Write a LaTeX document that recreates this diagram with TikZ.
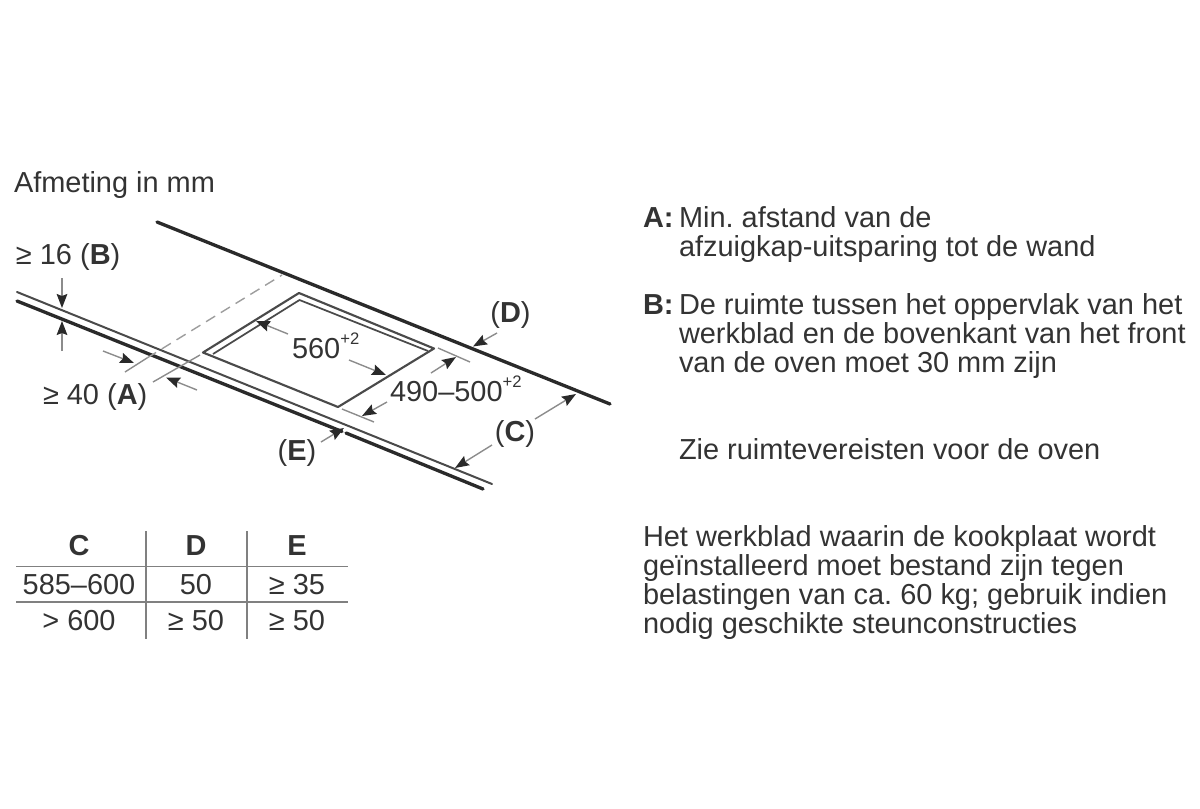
\documentclass[tikz,border=0pt]{standalone}
\usepackage{fontspec}
\setmainfont{Liberation Sans}
\usetikzlibrary{arrows.meta}
\frenchspacing
\definecolor{ink}{HTML}{333333}
\definecolor{edge}{HTML}{2A2A2A}
\definecolor{dimline}{HTML}{8C8C8C}
\definecolor{tabline}{HTML}{808080}
\newcommand{\supp}[1]{\raisebox{0.45em}{\fontsize{12.5}{14}\selectfont #1}}
\tikzset{
  txt/.style={anchor=base west,inner sep=0pt,outer sep=0pt,text=ink,font=\fontsize{21.7}{26}\selectfont},
  ctxt/.style={txt,anchor=base},
  heavy/.style={draw=edge,line width=2.5pt,line cap=round},
  thin edge/.style={draw=edge!85,line width=1.5pt,line cap=round},
  cut/.style={draw=edge!85,line width=1.6pt,line join=round},
  extline/.style={draw=dimline,line width=1.05pt},
  dashline/.style={draw=dimline!85,line width=1.05pt,dash pattern=on 8pt off 5pt},
  dimarrow/.style={draw=dimline,line width=1.05pt,-{Stealth[length=10.5pt,width=8pt,inset=1.5pt,color=edge,fill=edge]}},
  tab/.style={draw=tabline,line width=1.3pt}
}
\begin{document}
\begin{tikzpicture}[x=0.75pt,y=-0.75pt]
\useasboundingbox (0,0) rectangle (1200,808);
% --- coordinates
\coordinate (wallA) at (157,222);
\coordinate (wallB) at (610,404);
\coordinate (frontUA) at (17,292);
\coordinate (frontUB) at (492,484);
\coordinate (frontLA) at (17,301);
\coordinate (frontLG) at (342,431.5);
\coordinate (frontLH) at (346,433);
\coordinate (frontLB) at (483,489);
\coordinate (cL) at (203,352.5);
\coordinate (cT) at (299,293);
\coordinate (cR) at (434,348.5);
\coordinate (cB) at (338,407);
\coordinate (iL) at (213,354);
\coordinate (iT) at (299.5,300);
\coordinate (iR) at (428,351);
% --- worktop edges
\draw[heavy] (wallA) -- (wallB);
\draw[thin edge] (frontUA) -- (frontUB);
\draw[heavy] (frontLA) -- (frontLG);
\draw[heavy] (frontLH) -- (frontLB);
% --- cut-out
\draw[cut] (cL) -- (cT) -- (cR) -- (cB) -- cycle;
\draw[cut,line width=1.3pt] (iL) -- (iT) -- (iR);
% --- extension lines
\coordinate (a1) at (125,372);
\coordinate (a2) at (147,358);
\coordinate (a3) at (282,275);
\coordinate (a4) at (153,382);
\coordinate (a5) at (200,355);
\draw[extline] (a1) -- (a2);
\draw[dashline] (a2) -- (a3);
\draw[extline] (a4) -- (a5);
\coordinate (w1) at (438,348);
\coordinate (w2) at (470,362);
\coordinate (w3) at (342,409);
\coordinate (w4) at (374,422);
\draw[extline] (w1) -- (w2);
\draw[extline] (w3) -- (w4);
% --- dimension arrows
\coordinate (b1s) at (62,278); \coordinate (b1e) at (62,308);
\coordinate (b2s) at (62,351); \coordinate (b2e) at (62,321);
\draw[dimarrow] (b1s) -- (b1e);
\draw[dimarrow] (b2s) -- (b2e);
\coordinate (a1s) at (103,351); \coordinate (a1e) at (134,363);
\coordinate (a2s) at (197,390); \coordinate (a2e) at (166,377.5);
\draw[dimarrow] (a1s) -- (a1e);
\draw[dimarrow] (a2s) -- (a2e);
\coordinate (l1s) at (288,334); \coordinate (l1e) at (256,321);
\coordinate (l2s) at (349,360); \coordinate (l2e) at (386,375);
\draw[dimarrow] (l1s) -- (l1e);
\draw[dimarrow] (l2s) -- (l2e);
\coordinate (m1s) at (431,373); \coordinate (m1e) at (456,357);
\coordinate (m2s) at (387,402); \coordinate (m2e) at (362,416);
\draw[dimarrow] (m1s) -- (m1e);
\draw[dimarrow] (m2s) -- (m2e);
\coordinate (ds) at (497,333); \coordinate (de) at (473,346.5);
\draw[dimarrow] (ds) -- (de);
\coordinate (c1s) at (535,419); \coordinate (c1e) at (576,394);
\coordinate (c2s) at (492,445); \coordinate (c2e) at (455,468);
\draw[dimarrow] (c1s) -- (c1e);
\draw[dimarrow] (c2s) -- (c2e);
\coordinate (es) at (321,442); \coordinate (ee) at (344,428);
\draw[dimarrow] (es) -- (ee);
% --- diagram labels
\node[txt] (title) at (14,192) {Afmeting in mm};
\node[txt] (lblB) at (16,264) {≥ 16 (\textbf{B})};
\node[txt] (lblA) at (43,404) {≥ 40 (\textbf{A})};
\node[txt] (lbl560) at (292,358) {560\supp{+2}};
\node[txt] (lbl490) at (390,401) {490–500\supp{+2}};
\node[ctxt] (lblD) at (510.5,322) {(\textbf{D})};
\node[ctxt] (lblC) at (515,441) {(\textbf{C})};
\node[ctxt] (lblE) at (297,460) {(\textbf{E})};
% --- table
\coordinate (h1a) at (16,566.5); \coordinate (h1b) at (348,566.5);
\coordinate (h2a) at (16,602); \coordinate (h2b) at (348,602);
\coordinate (v1a) at (146,531); \coordinate (v1b) at (146,639);
\coordinate (v2a) at (247,531); \coordinate (v2b) at (247,639);
\draw[tab] (h1a) -- (h1b);
\draw[tab] (h2a) -- (h2b);
\draw[tab] (v1a) -- (v1b);
\draw[tab] (v2a) -- (v2b);
\node[ctxt] (tC) at (79,555) {\textbf{C}};
\node[ctxt] (tD) at (196,555) {\textbf{D}};
\node[ctxt] (tE) at (297,555) {\textbf{E}};
\node[ctxt] (t11) at (79,594) {585–600};
\node[ctxt] (t12) at (196,594) {50};
\node[ctxt] (t13) at (297,594) {≥ 35};
\node[ctxt] (t21) at (79,630) {> 600};
\node[ctxt] (t22) at (196,630) {≥ 50};
\node[ctxt] (t23) at (297,630) {≥ 50};
% --- right-hand text
\node[txt] (ka) at (643,227) {\textbf{A:}};
\node[txt] (a1t) at (679,227) {Min. afstand van de};
\node[txt] (a2t) at (679,256) {afzuigkap-uitsparing tot de wand};
\node[txt] (kb) at (643,314) {\textbf{B:}};
\node[txt] (b1t) at (679,314) {De ruimte tussen het oppervlak van het};
\node[txt] (b2t) at (679,343) {werkblad en de bovenkant van het front};
\node[txt] (b3t) at (679,372) {van de oven moet 30 mm zijn};
\node[txt] (zie) at (679,459) {Zie ruimtevereisten voor de oven};
\node[txt] (w1t) at (643,546) {Het werkblad waarin de kookplaat wordt};
\node[txt] (w2t) at (643,575) {geïnstalleerd moet bestand zijn tegen};
\node[txt] (w3t) at (643,604) {belastingen van ca. 60 kg; gebruik indien};
\node[txt] (w4t) at (643,633) {nodig geschikte steunconstructies};
\end{tikzpicture}
\end{document}
